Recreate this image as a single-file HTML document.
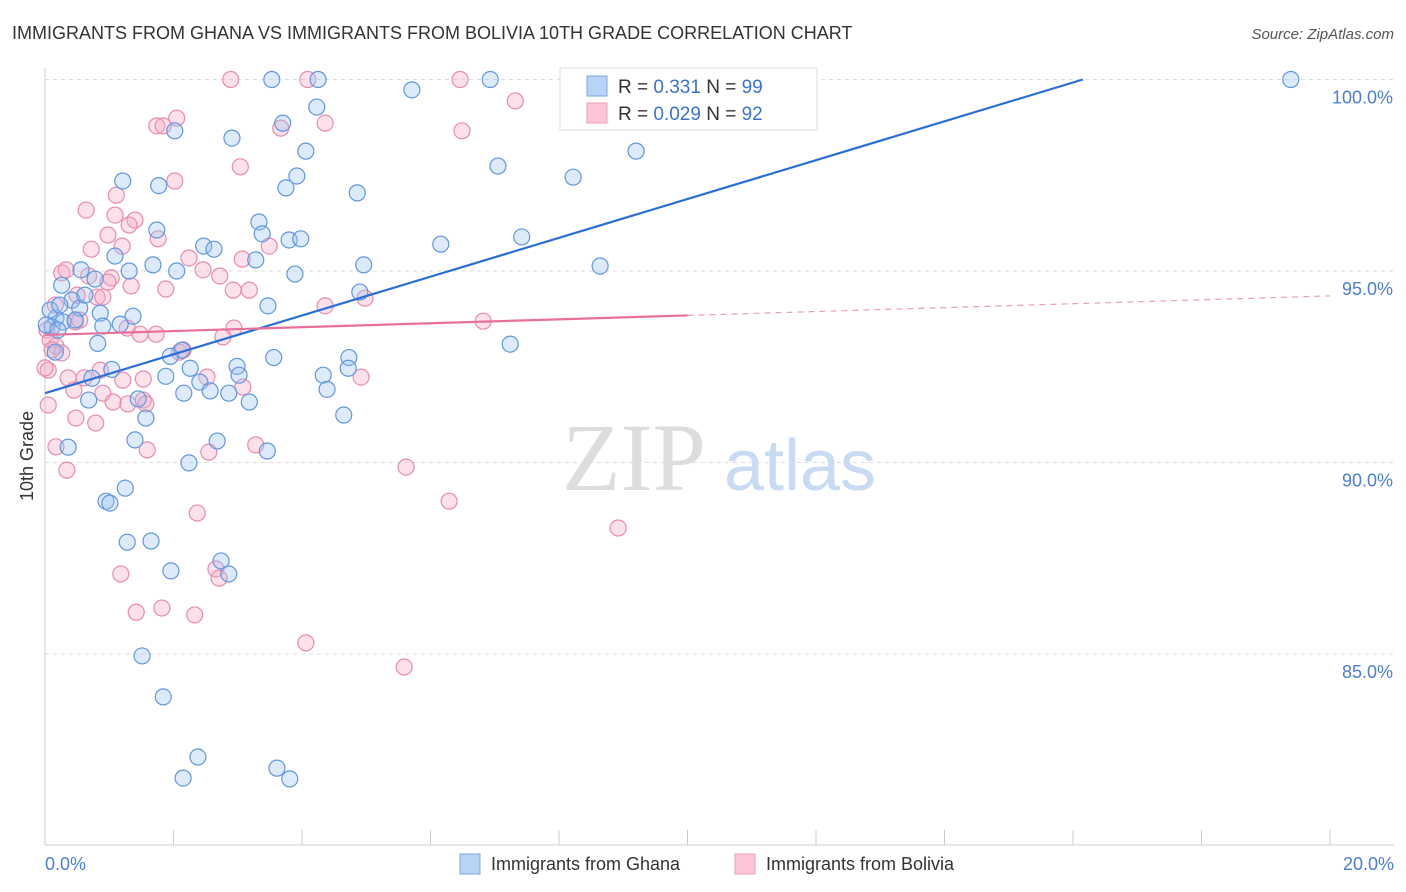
<!DOCTYPE html>
<html><head><meta charset="utf-8"><style>
body{margin:0;background:#fff;font-family:"Liberation Sans",sans-serif;}
svg{display:block}
</style></head><body>
<svg width="1406" height="892" viewBox="0 0 1406 892" xmlns="http://www.w3.org/2000/svg">
<text x="12" y="39" font-size="18" fill="#333">IMMIGRANTS FROM GHANA VS IMMIGRANTS FROM BOLIVIA 10TH GRADE CORRELATION CHART</text>
<text x="1394" y="39" font-size="15" fill="#555" text-anchor="end" font-style="italic">Source: ZipAtlas.com</text>
<g id="grid"></g>
<text x="634" y="490" font-size="96" fill="#ddd" font-family="Liberation Serif,serif" text-anchor="middle">ZIP</text>
<text x="800" y="490" font-size="72" fill="#c9dbf3" text-anchor="middle">atlas</text>
<line x1="45" y1="68" x2="45" y2="845" stroke="#ccc"/>
<line x1="45" y1="845" x2="1394" y2="845" stroke="#ccc"/>
<g id="xticks"></g>
<g id="ylabels"></g>
<text x="45" y="870" font-size="18" fill="#4a7fd4">0.0%</text>
<text x="1394" y="870" font-size="18" fill="#4a7fd4" text-anchor="end">20.0%</text>
<text transform="translate(33,456) rotate(-90)" font-size="18" fill="#333" text-anchor="middle">10th Grade</text>
<g id="pink"></g>
<g id="blue"></g>
<g id="trends"></g>
<g>
<rect x="560" y="68" width="257" height="62" fill="#fff" stroke="#ddd"/>
<rect x="587" y="76" width="20" height="20" fill="#b8d3f5" stroke="#7aa8e6"/>
<rect x="587" y="103" width="20" height="20" fill="#fac6d6" stroke="#ee9db8"/>
<text x="618" y="93" font-size="19" fill="#333">R = <tspan fill="#3a72d0"> 0.331</tspan>   N = <tspan fill="#3a72d0">99</tspan></text>
<text x="618" y="120" font-size="19" fill="#333">R = <tspan fill="#3a72d0">0.029</tspan>   N = <tspan fill="#3a72d0">92</tspan></text>
</g>
<g>
<rect x="460" y="854" width="20" height="20" fill="#b8d3f5" stroke="#7aa8e6"/>
<text x="491" y="870" font-size="18" fill="#333">Immigrants from Ghana</text>
<rect x="735" y="854" width="20" height="20" fill="#fac6d6" stroke="#ee9db8"/>
<text x="766" y="870" font-size="18" fill="#333">Immigrants from Bolivia</text>
</g>
</svg>
<script>
const ghanaX=[3.53,4.25,6.93,19.39,5.71,4.23,3.70,2.02,2.91,4.06,9.20,7.05,1.21,3.92,8.22,1.77,3.75,4.86,3.33,1.74,3.38,7.42,2.47,2.63,3.80,3.98,6.16,1.09,3.28,1.68,0.56,1.31,2.05,4.96,8.64,3.89,0.26,0.78,4.90,0.42,0.54,3.47,0.86,0.17,1.37,0.90,1.17,0.11,0.28,0.82,7.24,2.13,1.95,3.56,4.73,2.99,1.04,2.26,4.72,0.73,1.88,4.33,2.41,3.02,2.16,2.57,2.86,4.39,0.68,1.45,3.18,1.57,4.65,1.40,2.68,0.36,3.46,2.24,1.25,0.95,1.01,1.28,1.65,1.96,2.74,2.86,1.51,1.84,2.38,2.15,3.61,3.81,0.08,0.02,0.16,0.20,0.23,0.47,0.62];
const ghanaY=[100,100,100,100,99.73,99.28,98.86,98.66,98.47,98.13,98.13,97.74,97.35,97.48,97.45,97.23,97.17,97.04,96.28,96.07,95.97,95.89,95.65,95.57,95.81,95.84,95.70,95.39,95.29,95.16,95.03,95.00,95.00,95.16,95.13,94.92,94.63,94.79,94.45,94.24,94.03,94.09,93.90,93.77,93.82,93.56,93.61,93.54,93.67,93.11,93.09,92.93,92.77,92.74,92.74,92.51,92.43,92.46,92.46,92.20,92.25,92.28,92.10,92.28,91.81,91.87,91.81,91.91,91.63,91.66,91.58,91.16,91.24,90.59,90.56,90.40,90.30,89.99,89.33,88.99,88.94,87.92,87.95,87.17,87.43,87.09,84.95,83.88,82.31,81.76,82.02,81.74,93.98,93.59,92.88,93.46,94.11,93.72,94.37];
const boliviaX=[2.89,4.09,6.46,7.32,2.05,1.74,1.84,4.36,6.49,3.67,3.04,2.02,1.11,0.64,1.09,1.40,1.31,0.98,1.76,0.72,1.20,3.49,2.24,3.07,0.26,0.33,0.68,1.03,2.72,2.46,1.34,1.88,2.93,3.18,0.98,0.50,0.81,0.90,4.36,4.98,0.16,0.47,0.54,1.28,1.48,2.94,1.73,2.77,0.03,0.08,0.17,0.26,2.09,2.15,0.05,0.36,0.61,1.53,2.52,0.86,1.21,0.45,0.90,3.08,4.92,0.05,1.53,1.06,1.29,1.57,0.48,0.79,0.17,0.34,1.59,2.55,3.28,6.82,5.62,6.29,2.37,8.92,1.18,2.66,2.71,1.42,1.82,2.33,4.06,5.59,0.11,0.00];
const boliviaY=[100,100,100,99.44,98.99,98.79,98.79,98.86,98.66,98.73,97.72,97.35,96.98,96.59,96.46,96.33,96.20,95.94,95.84,95.57,95.65,95.65,95.34,95.31,94.95,95.03,94.87,94.82,94.87,95.03,94.61,94.53,94.50,94.50,94.71,94.37,94.32,94.32,94.09,94.29,94.11,93.67,93.72,93.51,93.35,93.51,93.35,93.28,93.46,93.20,93.04,92.86,92.88,92.94,92.41,92.21,92.21,92.18,92.23,92.41,92.15,91.89,91.81,91.97,92.23,91.50,91.63,91.58,91.53,91.53,91.16,91.03,90.41,89.80,90.33,90.27,90.46,93.69,89.88,88.99,88.68,88.29,87.09,87.22,86.98,86.09,86.20,86.02,85.29,84.66,92.94,92.47];
const yTicks=[100,95,90,85];
const yTickLabels=["100.0%","95.0%","90.0%","85.0%"];
const xTicks=[0,2,4,6,8,10,12,14,16,18,20];
const ghanaTrend=[91.81,0.507];
const boliviaTrend=[93.33,0.051];
const NS='http://www.w3.org/2000/svg';
function sx(v){return 45+v*64.25;}
function sy(v){return 79.5+(100-v)*38.3;}
function mk(t,a,p){const e=document.createElementNS(NS,t);for(const k in a)e.setAttribute(k,a[k]);p.appendChild(e);return e;}
const grid=document.getElementById('grid'),yl=document.getElementById('ylabels'),xt=document.getElementById('xticks');
yTicks.forEach((v,i)=>{
 const l=mk('line',{x1:45,x2:1394,y1:sy(v),y2:sy(v),stroke:'#ddd','stroke-dasharray':'4,4'},grid);
 
 
 const t=mk('text',{x:1393,y:sy(v)+24,'font-size':18,fill:'#4a7fd4','text-anchor':'end'},yl);
 t.textContent=yTickLabels[i];
 
 
});
xTicks.forEach(v=>{
 const l=mk('line',{x1:sx(v),x2:sx(v),y1:830,y2:845,stroke:'#ccc'},xt);
 
 
});
function dots(xs,ys,g,fill,stroke,name){
 xs.forEach((x,i)=>{
  const c=mk('circle',{cx:sx(x),cy:sy(ys[i]),r:8,fill:fill,'fill-opacity':0.35,stroke:stroke,'stroke-width':1.2},g);
  
  
 });
}
dots(boliviaX,boliviaY,document.getElementById('pink'),'#f5a9c3','#e98bb0','bolivia-point');
dots(ghanaX,ghanaY,document.getElementById('blue'),'#9cc2f0','#5f97e0','ghana-point');
const tr=document.getElementById('trends');
const gxEnd=(100-ghanaTrend[0])/ghanaTrend[1];
const bl=mk('line',{x1:sx(0),y1:sy(ghanaTrend[0]),x2:sx(gxEnd),y2:sy(100),stroke:'#2a6fd6','stroke-width':2.2},tr);


const p1=mk('line',{x1:sx(0),y1:sy(boliviaTrend[0]),x2:sx(10),y2:sy(boliviaTrend[0]+10*boliviaTrend[1]),stroke:'#e8709a','stroke-width':2.2},tr);


const p2=mk('line',{x1:sx(10),y1:sy(boliviaTrend[0]+10*boliviaTrend[1]),x2:sx(20),y2:sy(boliviaTrend[0]+20*boliviaTrend[1]),stroke:'#e8a0b8','stroke-width':1.2,'stroke-dasharray':'6,5'},tr);


</script>
</body></html>
